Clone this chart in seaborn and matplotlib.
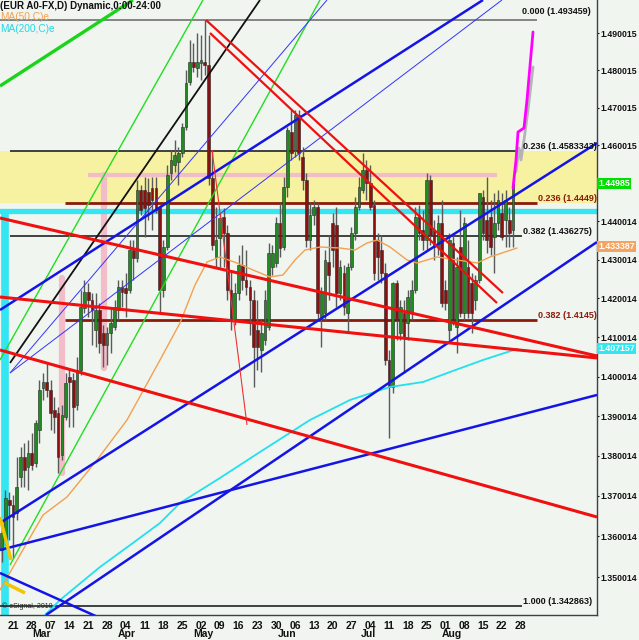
import matplotlib
matplotlib.use("Agg")
import matplotlib.pyplot as plt
import matplotlib.transforms as mtransforms
from matplotlib.ticker import FixedLocator, FixedFormatter, NullLocator
import numpy as np
import pandas as pd
import seaborn as sns

# x = trading-bar index, 0 = Monday 21 Feb (5 bars a week)
bars = list(range(-3, 134))
opens = [
    1.35665, 1.35912, 1.36901, 1.36777, 1.36579, 1.37473, 1.37973, 1.37723, 1.38073, 1.37823,
    1.38650, 1.39711, 1.39862, 1.39660, 1.39154, 1.39078, 1.38023, 1.38978, 1.39989, 1.39913,
    1.39280, 1.40167, 1.41752, 1.42164, 1.41958, 1.41188, 1.41701, 1.41111, 1.40805, 1.41111,
    1.41265, 1.41701, 1.42293, 1.42268, 1.42216, 1.43251, 1.43044, 1.44819, 1.44819, 1.44766,
    1.44871, 1.44871, 1.44373, 1.42216, 1.43329, 1.45266, 1.45477, 1.45556, 1.45794, 1.46483,
    1.47683, 1.48220, 1.48059, 1.48193, 1.48220, 1.48140, 1.45134, 1.43070, 1.43563, 1.44111,
    1.43694, 1.42216, 1.41444, 1.42138, 1.42862, 1.42474, 1.42293, 1.41958, 1.41188, 1.40677,
    1.40932, 1.41265, 1.42811, 1.42914, 1.43955, 1.43329, 1.44897, 1.46350, 1.45873, 1.46802,
    1.45688, 1.45081, 1.43511, 1.44164, 1.44373, 1.41521, 1.41624, 1.42940, 1.43955, 1.43902,
    1.42138, 1.42655, 1.41624, 1.42811, 1.43694, 1.44373, 1.44819, 1.45345, 1.45002, 1.44425,
    1.43511, 1.43251, 1.42655, 1.40422, 1.39736, 1.42397, 1.41111, 1.41624, 1.41367, 1.41624,
    1.42216, 1.44164, 1.43772, 1.43511, 1.45081, 1.43772, 1.43329, 1.43955, 1.42216, 1.41188,
    1.43433, 1.41265, 1.43329, 1.41624, 1.42811, 1.42397, 1.41958, 1.42474, 1.44635, 1.44033,
    1.44111, 1.43589, 1.43955, 1.44216, 1.44033, 1.44033, 1.43772,
]
highs = [
    1.36158, 1.37150, 1.37100, 1.37025, 1.37973, 1.38223, 1.38324, 1.38399, 1.38575, 1.38902,
    1.39913, 1.40091, 1.40346, 1.39913, 1.39483, 1.39230, 1.39280, 1.40091, 1.40167, 1.40091,
    1.40499, 1.42216, 1.42474, 1.42397, 1.42138, 1.42138, 1.41881, 1.41316, 1.41265, 1.41778,
    1.41958, 1.42474, 1.42474, 1.42655, 1.43511, 1.43511, 1.45081, 1.44950, 1.45160, 1.45134,
    1.45160, 1.45160, 1.44425, 1.43511, 1.45477, 1.45873, 1.46138, 1.45953, 1.46589, 1.48005,
    1.48812, 1.48731, 1.49002, 1.48948, 1.49353, 1.48948, 1.45873, 1.44373, 1.44216, 1.44346,
    1.43902, 1.42733, 1.42397, 1.43121, 1.43381, 1.43251, 1.42474, 1.42216, 1.41958, 1.41444,
    1.42216, 1.43433, 1.43381, 1.44111, 1.44477, 1.45160, 1.46483, 1.46935, 1.46935, 1.46935,
    1.45953, 1.45266, 1.44477, 1.44556, 1.44477, 1.42293, 1.43251, 1.43641, 1.44216, 1.44373,
    1.42992, 1.42862, 1.42914, 1.43850, 1.44635, 1.45160, 1.45794, 1.45609, 1.45477, 1.44556,
    1.43694, 1.43641, 1.42914, 1.40677, 1.42422, 1.42474, 1.41958, 1.41958, 1.42216, 1.42474,
    1.44373, 1.44425, 1.44294, 1.45266, 1.45213, 1.44033, 1.44164, 1.44556, 1.42474, 1.43694,
    1.43641, 1.43070, 1.44294, 1.44111, 1.43511, 1.42655, 1.42604, 1.44740, 1.44819, 1.45160,
    1.44556, 1.44740, 1.44819, 1.44740, 1.44819, 1.44373, 1.45002,
]
lows = [
    1.35371, 1.35789, 1.35912, 1.35469, 1.36405, 1.37225, 1.37225, 1.37150, 1.37648, 1.37723,
    1.38324, 1.39407, 1.39483, 1.38650, 1.38575, 1.37573, 1.37898, 1.38902, 1.38726, 1.38726,
    1.39154, 1.40040, 1.41624, 1.41521, 1.40805, 1.40754, 1.40601, 1.40244, 1.40295, 1.40601,
    1.41188, 1.41444, 1.41778, 1.41521, 1.42138, 1.42474, 1.42940, 1.44164, 1.43589, 1.44033,
    1.43772, 1.44216, 1.41624, 1.42035, 1.43251, 1.45081, 1.45292, 1.44950, 1.45688, 1.46403,
    1.47603, 1.47951, 1.47817, 1.47737, 1.47871, 1.44950, 1.43251, 1.42811, 1.42811, 1.42811,
    1.41958, 1.41188, 1.41316, 1.41958, 1.42216, 1.42087, 1.41060, 1.39736, 1.40167, 1.40116,
    1.40805, 1.41188, 1.42604, 1.42811, 1.43070, 1.43251, 1.44635, 1.45609, 1.45688, 1.45609,
    1.44819, 1.43329, 1.43251, 1.43902, 1.41444, 1.40754, 1.41444, 1.41958, 1.42811, 1.41778,
    1.41958, 1.41572, 1.41111, 1.42733, 1.43511, 1.44294, 1.44740, 1.44556, 1.44294, 1.42474,
    1.42474, 1.42397, 1.40295, 1.38449, 1.39584, 1.40932, 1.40932, 1.40091, 1.40932, 1.41444,
    1.42138, 1.43511, 1.43251, 1.43251, 1.43381, 1.42992, 1.43121, 1.41778, 1.41701, 1.40932,
    1.41316, 1.40601, 1.41521, 1.41444, 1.41495, 1.41111, 1.41701, 1.42397, 1.43511, 1.43173,
    1.43121, 1.42655, 1.43772, 1.43511, 1.43329, 1.43329, 1.43329,
]
closes = [
    1.36084, 1.36951, 1.36777, 1.36479, 1.37225, 1.37973, 1.37648, 1.38073, 1.37773, 1.38826,
    1.39660, 1.39862, 1.39660, 1.39078, 1.38978, 1.37973, 1.39028, 1.39837, 1.39862, 1.39230,
    1.40167, 1.41778, 1.42164, 1.41958, 1.41701, 1.41701, 1.40856, 1.40805, 1.41111, 1.41367,
    1.41778, 1.42293, 1.42164, 1.42138, 1.43251, 1.43044, 1.44819, 1.44294, 1.44346, 1.44425,
    1.44556, 1.44294, 1.42216, 1.43329, 1.45213, 1.45609, 1.45741, 1.45794, 1.46483, 1.47657,
    1.48220, 1.48086, 1.48220, 1.48274, 1.48140, 1.45134, 1.43381, 1.43511, 1.44085, 1.43694,
    1.42216, 1.41444, 1.42138, 1.42862, 1.42474, 1.42293, 1.41958, 1.40754, 1.40754, 1.41111,
    1.41958, 1.43173, 1.43173, 1.43955, 1.43303, 1.44897, 1.46403, 1.45794, 1.46802, 1.45794,
    1.45081, 1.43511, 1.44164, 1.44373, 1.41624, 1.42138, 1.42992, 1.42604, 1.43251, 1.42138,
    1.42811, 1.41778, 1.42811, 1.43694, 1.44373, 1.44897, 1.45345, 1.45002, 1.44373, 1.42655,
    1.43070, 1.42655, 1.40422, 1.39736, 1.42397, 1.41444, 1.41778, 1.41009, 1.42035, 1.42216,
    1.44111, 1.43694, 1.43511, 1.45081, 1.43641, 1.43329, 1.43955, 1.41881, 1.41881, 1.43511,
    1.41444, 1.42811, 1.41624, 1.43955, 1.41624, 1.41624, 1.42474, 1.44740, 1.43694, 1.43511,
    1.43329, 1.43955, 1.44556, 1.43589, 1.44556, 1.43694, 1.44985,
]

# moving averages (bar, value)
ma50_bar = [-3.46, 1.86, 7.98, 14.36, 22.34, 30.32, 39.1, 44.41, 48.4, 51.6, 55.05, 59.57, 63.83,
            68.35, 71.81, 75.0, 77.66, 81.65, 86.97, 90.96, 94.15, 96.81, 100.27, 104.79, 107.45,
            112.77, 118.09, 123.4, 126.86, 130.85, 134.04]
ma50 = [1.34685, 1.35543, 1.36529, 1.36976, 1.37898, 1.38902, 1.40422, 1.41367, 1.42345, 1.42940,
        1.43070, 1.42914, 1.42733, 1.42552, 1.42604, 1.42992, 1.43251, 1.43329, 1.43303, 1.43251,
        1.43433, 1.43511, 1.43329, 1.42992, 1.42914, 1.43070, 1.42992, 1.42914, 1.43070, 1.43199,
        1.43303]
ma200_bar = [8.51, 12.5, 23.14, 31.91, 39.1, 44.41, 55.05, 65.69, 78.99, 89.63, 100.27, 109.04,
             116.22, 125.0, 134.04]
ma200 = [1.34075, 1.34440, 1.35248, 1.35838, 1.36331, 1.36826, 1.37449, 1.38098, 1.38902, 1.39407,
         1.39736, 1.39862, 1.40116, 1.40422, 1.40703]

# projections after the last bar
proj_magenta_bar = [132.98, 133.78, 134.31, 135.9, 136.7, 138.3]
proj_magenta = [1.44870, 1.45609, 1.46350, 1.46456, 1.47202, 1.49029]
proj_gray_bar = [133.78, 134.57, 135.1, 135.9, 136.97, 138.3]
proj_gray = [1.45292, 1.45926, 1.45609, 1.46138, 1.46935, 1.48086]

# drawn trend lines: ((bar0, price0), (bar1, price1))
red_thick = [((-3.46, 1.44085), (155.32, 1.40524)),
             ((-3.46, 1.42035), (155.32, 1.40473)),
             ((-3.46, 1.40677), (155.32, 1.36479))]
red_pair = [((51.33, 1.49353), (130.3, 1.42138)),
            ((52.39, 1.49002), (128.72, 1.41881))]
red_thin = [((52.93, 1.45873), (62.23, 1.38776))]
blue_thick = [((-3.46, 1.41701), (125.0, 1.49896)),
              ((-3.46, 1.35665), (155.32, 1.39534)),
              ((-3.46, 1.36331), (155.32, 1.46058)),
              ((8.78, 1.34075), (155.32, 1.43459)),
              ((-3.46, 1.35100), (23.14, 1.34002))]
blue_thin = [((-0.8, 1.40091), (130.05, 1.49896)),
             ((-0.8, 1.40091), (83.51, 1.49896))]
black_fan = [((-0.8, 1.40346), (65.69, 1.49896))]
green_thick = [((-3.46, 1.47576), (31.91, 1.49896))]
green_thin = [((-3.46, 1.40422), (50.53, 1.49896)),
              ((-0.8, 1.35297), (81.65, 1.49896))]

# fibonacci levels: (label, price, start bar, end bar)
fib_black = [("0.236 (1.4583343)", 1.4583343, -0.8, 135.4),
             ("0.382 (1.436275)", 1.436275, -0.8, 135.4),
             ("1.000 (1.342863)", 1.342863, -3.46, 135.4)]
fib_brown = [("0.236 (1.4449)", 1.4449, 13.8, 139.4),
             ("0.382 (1.4145)", 1.4145, 13.8, 139.4)]
fib_top = ("0.000 (1.493459)", 1.4935, -3.46, 139.4)

band_low, band_high = 1.4449, 1.4583343
cyan_level, cyan_bar = 1.44268, -2.13
pink_level, pink_from, pink_to = 1.45213, 19.9, 128.7
pink_bars = [(24.2, 1.40218, 1.45213), (13.0, 1.37573, 1.42526)]
gold_marks = [((-3.46, 1.36479), (-0.53, 1.35420)), ((-2.13, 1.34856), (3.19, 1.34612))]

week_ticks = list(range(0, 140, 5))
week_labels = ["21", "28", "07", "14", "21", "28", "04", "11", "18", "25", "02", "09", "16", "23",
               "30", "06", "13", "20", "27", "04", "11", "18", "25", "01", "08", "15", "22", "28"]
month_labels = ["Mar", "Apr", "May", "Jun", "Jul", "Aug"]
month_pos = [7.7, 30.3, 50.5, 72.9, 94.4, 116.8]
price_ticks = [1.350014, 1.360014, 1.370014, 1.380014, 1.390014, 1.400014, 1.410014, 1.420014,
               1.430014, 1.440014, 1.450015, 1.460015, 1.470015, 1.480015, 1.490015]
hidden_tick = 1.450015  # covered by the last-price box
last_boxes = [("1.44985", 1.44985, "#00e000"), ("1.433387", 1.433387, "#f4a460"),
              ("1.407157", 1.407157, "#33e6f2")]

BG = "#f0f5f0"
sns.set_style("white")
plt.rcParams["font.family"] = ["Liberation Sans Narrow", "Liberation Sans", "DejaVu Sans"]
plt.rcParams["font.weight"] = "bold"

fig = plt.figure(figsize=(6.39, 6.40), dpi=100)
fig.patch.set_facecolor(BG)
ax = fig.add_axes([0, 25 / 640, 597 / 639, 615 / 640])
ax.set_facecolor(BG)
ax.set_yscale("log")
ax.set_xlim(-3.46, 155.32)
ax.set_ylim(1.34075, 1.49896)

# zones and marker bars
ax.axhspan(band_low, band_high, color="#f6f2a2", zorder=0.5, lw=0)
ax.axhline(cyan_level, color="#33e6f2", lw=3.8, zorder=1.5)
ax.vlines(cyan_bar, 1.3, cyan_level, color="#33e6f2", lw=5.5, zorder=1.5)
ax.hlines(pink_level, pink_from, pink_to, color="#f2bcc8", lw=3, zorder=1)
for xb, lo, hi in pink_bars:
    ax.plot([xb, xb], [lo, hi], color="#f2bcc8", lw=4.5, solid_capstyle="round", zorder=1)

# fibonacci lines
FIB_FS = 6.5
for label, lvl, x0, x1 in fib_black:
    ax.hlines(lvl, x0, x1, color="#222222", lw=1.2, zorder=2)
    ax.text(x1 + 0.3, lvl, label, fontsize=FIB_FS, color="#111111", va="bottom", ha="left", zorder=7)
for label, lvl, x0, x1 in fib_brown:
    ax.hlines(lvl, x0, x1, color="#8b1a0a", lw=2, zorder=2)
    ax.text(x1 + 0.2, lvl, label, fontsize=FIB_FS, color="#8b1a0a", va="bottom", ha="left", zorder=7)
label, lvl, x0, x1 = fib_top
ax.hlines(lvl, x0, x1, color="#707070", lw=1.2, zorder=2)
ax.text(135.4, lvl * 1.0008, label, fontsize=FIB_FS, color="#111111", va="bottom", ha="left", zorder=7)

# candles
o = np.array(opens)
c = np.array(closes)
body_colors = np.where(c >= o, "#1e8c1e", "#8b1010")
ax.vlines(bars, lows, highs, color="#5a5a5a", lw=1, zorder=4)
ax.bar(bars, c - o, bottom=o, width=0.72, color=body_colors, edgecolor="#2a2a2a",
       linewidth=0.4, zorder=5)

# moving averages
ma50_df = pd.DataFrame({"bar": ma50_bar, "value": ma50})
ma200_df = pd.DataFrame({"bar": ma200_bar, "value": ma200})
sns.lineplot(data=ma50_df, x="bar", y="value", ax=ax, color="#f4a050", lw=1, zorder=6)
sns.lineplot(data=ma200_df, x="bar", y="value", ax=ax, color="#22e0ee", lw=1.3, zorder=6)


def draw(lines, color, lw):
    for (x0, y0), (x1, y1) in lines:
        ax.plot([x0, x1], [y0, y1], color=color, lw=lw, zorder=6, solid_capstyle="butt")


draw(green_thick, "#19d419", 2.4)
draw(green_thin, "#22dd22", 1.0)
draw(black_fan, "#111111", 1.3)
draw(blue_thin, "#3333ff", 0.7)
draw(blue_thick, "#1414e6", 1.8)
draw(red_thick, "#f01010", 2.2)
draw(red_pair, "#ee1111", 1.6)
draw(red_thin, "#f03030", 0.8)
draw(gold_marks, "#f5c400", 2.5)

ax.plot(proj_gray_bar, proj_gray, color="#b4b4b4", lw=2, zorder=6)
ax.plot(proj_magenta_bar, proj_magenta, color="#ff00ff", lw=2, zorder=6)

# axes styling
for side in ("left", "top"):
    ax.spines[side].set_visible(False)
for side in ("right", "bottom"):
    ax.spines[side].set_color("#404040")
    ax.spines[side].set_linewidth(1)
ax.yaxis.tick_right()
ax.yaxis.set_major_locator(FixedLocator(price_ticks))
ax.yaxis.set_major_formatter(FixedFormatter(
    ["" if v == hidden_tick else f"{v:.6f}" for v in price_ticks]))
ax.yaxis.set_minor_locator(NullLocator())
ax.set_xticks(week_ticks)
ax.set_xticklabels(week_labels)
ax.tick_params(axis="y", labelsize=6.3, length=1.5, pad=0.8, colors="#111111")
ax.tick_params(axis="x", labelsize=7.5, length=3, pad=1, colors="#111111")
ax.set_xlabel("")
ax.set_ylabel("")
ax.grid(False)

xt = ax.get_xaxis_transform()
for name, pos in zip(month_labels, month_pos):
    ax.text(pos, -0.031, name, transform=xt, fontsize=7.5, ha="center", va="center",
            color="#111111", clip_on=False)

yt = mtransforms.blended_transform_factory(ax.transAxes, ax.transData)
for label, lvl, color in last_boxes:
    ax.text(1.002, lvl, label, transform=yt, fontsize=6.3, color="white", ha="left", va="center",
            bbox=dict(boxstyle="square,pad=0.1", fc=color, ec="none"), clip_on=False, zorder=8)

ax.text(0.0, 0.99, "(EUR A0-FX,D) Dynamic,0:00-24:00", transform=ax.transAxes, fontsize=7,
        va="center", ha="left", color="#111111", zorder=8)
ax.text(0.0, 0.9724, "MA(50,C)e", transform=ax.transAxes, fontsize=7.3, fontweight="normal",
        va="center", ha="left", color="#f4a050", zorder=8)
ax.text(0.0, 0.953, "MA(200,C)e", transform=ax.transAxes, fontsize=7.3, fontweight="normal",
        va="center", ha="left", color="#22d8e8", zorder=8)
ax.text(0.004, 0.0146, "\u00a9 eSignal, 2010", transform=ax.transAxes, fontsize=5,
        fontweight="normal", va="center", ha="left", color="#222222", zorder=8)

fig.savefig("out.png", dpi=100, facecolor=BG)
